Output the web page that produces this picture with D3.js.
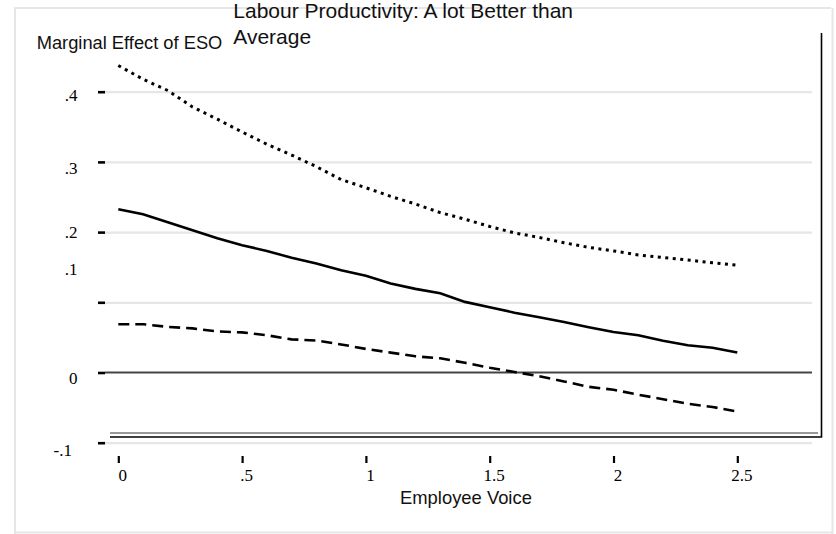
<!DOCTYPE html>
<html>
<head>
<meta charset="utf-8">
<script src="https://cdn.jsdelivr.net/npm/d3@7"></script>
<style>
  html, body { margin: 0; padding: 0; background: #fff; }
  svg { display: block; }
</style>
</head>
<body>
<svg id="chart" width="836" height="534"></svg>
<script>
// Employee voice values at which the marginal effect was evaluated
const voice = [0, 0.1, 0.2, 0.3, 0.4, 0.5, 0.6, 0.7, 0.8, 0.9, 1.0, 1.1, 1.2,
  1.3, 1.4, 1.5, 1.6, 1.7, 1.8, 1.9, 2.0, 2.1, 2.2, 2.3, 2.4, 2.5];

// Point estimate of the marginal effect of ESO
const effect = [0.2326, 0.2255, 0.2141, 0.2027, 0.1913, 0.1813, 0.1732, 0.1634,
  0.1554, 0.1457, 0.1377, 0.1269, 0.1191, 0.1130, 0.1006, 0.0930, 0.0852,
  0.0788, 0.0719, 0.0645, 0.0576, 0.0531, 0.0452, 0.0389, 0.0352, 0.0285];

// Upper confidence bound
const upper = [0.4373, 0.4178, 0.4017, 0.3782, 0.3608, 0.3426, 0.3252, 0.3098,
  0.2932, 0.2748, 0.2632, 0.2509, 0.2400, 0.2278, 0.2184, 0.2080, 0.1989,
  0.1924, 0.1849, 0.1783, 0.1732, 0.1675, 0.1638, 0.1603, 0.1563, 0.1528];

// Lower confidence bound
const lower = [0.0688, 0.0688, 0.0650, 0.0628, 0.0585, 0.0571, 0.0531, 0.0472,
  0.0456, 0.0400, 0.0336, 0.0283, 0.0231, 0.0202, 0.0138, 0.0068, 0.0007,
  -0.0053, -0.0127, -0.0204, -0.0246, -0.0316, -0.0380, -0.0446, -0.0491, -0.0556];

// Axis ticks and their labels
const xTicks = [0, 0.5, 1, 1.5, 2, 2.5];
const xTickLabels = ["0", ".5", "1", "1.5", "2", "2.5"];
const yTicks = [0.4, 0.3, 0.2, 0.1, 0, -0.1];
const yTickLabels = [".4", ".3", ".2", ".1", "0", "-.1"];
// value at which each y label sits
const yLabelAt = [0.396, 0.291, 0.2, 0.148, -0.007, -0.11];

const titleLines = ["Labour Productivity: A lot Better than", "Average"];
const yTitle = "Marginal Effect of ESO";
const xTitle = "Employee Voice";

const svg = d3.select("#chart");
const sans = "'Liberation Sans', Arial, Helvetica, sans-serif";
const serif = "'Liberation Serif', 'Times New Roman', serif";

const x = d3.scaleLinear().domain([0, 2.5]).range([118.3, 737.3]);
const y = d3.scaleLinear().domain([-0.1, 0.4]).range([442.7, 91.7]);

const plotLeft = 105, plotRight = 812;

// outer light frame
const frame = svg.append("g").attr("fill", "none").attr("stroke", "#e6e6e6").attr("stroke-width", 2);
frame.append("path").attr("d", "M15,534 V8 H831");
frame.append("path").attr("d", "M832.5,8 V534");
frame.append("path").attr("d", "M15,532.5 H832");

// light gridlines (non-zero values)
const grid = d3.axisLeft(y)
  .tickValues(yTicks.filter(v => v !== 0))
  .tickSizeInner(-(plotRight - plotLeft))
  .tickSizeOuter(0)
  .tickFormat("");
svg.append("g")
  .attr("transform", `translate(${plotLeft},0)`)
  .call(grid)
  .call(g => g.select(".domain").remove())
  .call(g => g.selectAll(".tick line").attr("stroke", "#e6e6e6").attr("stroke-width", 2.2));

// zero reference line
svg.append("line")
  .attr("x1", plotLeft).attr("x2", plotRight)
  .attr("y1", y(0)).attr("y2", y(0))
  .attr("stroke", "#444").attr("stroke-width", 2.2);

// short black y tick marks
const yAxis = d3.axisLeft(y).tickValues(yTicks).tickSize(7).tickFormat("");
svg.append("g")
  .attr("transform", `translate(${plotLeft},0)`)
  .call(yAxis)
  .call(g => g.select(".domain").remove())
  .call(g => g.selectAll(".tick line").attr("stroke", "#000").attr("stroke-width", 2.6));

// y tick labels
svg.append("g").selectAll("text")
  .data(yTickLabels)
  .join("text")
  .attr("x", (d, i) => d === "-.1" ? 72 : 77.5)
  .attr("y", (d, i) => y(yLabelAt[i]))
  .attr("dy", "0.36em")
  .attr("text-anchor", "end")
  .attr("font-family", serif)
  .attr("font-size", 17)
  .attr("fill", "#000")
  .text(d => d);

// plot box: double line along the bottom and a rule on the right
svg.append("line").attr("x1", 110).attr("x2", 818).attr("y1", 433).attr("y2", 433)
  .attr("stroke", "#777").attr("stroke-width", 1.5);
svg.append("path").attr("d", "M110,437 H821.5 V33")
  .attr("fill", "none").attr("stroke", "#000").attr("stroke-width", 1.6);

// x axis ticks and labels
const xAxis = d3.axisBottom(x)
  .tickValues(xTicks)
  .tickSize(7)
  .tickPadding(6)
  .tickFormat((d, i) => xTickLabels[i]);
svg.append("g")
  .attr("transform", "translate(0,456)")
  .call(xAxis)
  .call(g => g.select(".domain").remove())
  .call(g => g.selectAll(".tick line").attr("stroke", "#000").attr("stroke-width", 2.2))
  .call(g => g.selectAll(".tick text")
    .attr("dx", 4)
    .attr("font-family", serif)
    .attr("font-size", 17)
    .attr("fill", "#000"));

// series lines
const series = [
  { values: upper, dash: "3,4.5", width: 3 },
  { values: effect, dash: null, width: 2.6 },
  { values: lower, dash: "11,6", width: 2.6 }
];
const line = d3.line().x(d => x(d[0])).y(d => y(d[1]));
svg.append("g").selectAll("path")
  .data(series)
  .join("path")
  .attr("d", s => line(voice.map((v, i) => [v, s.values[i]])))
  .attr("fill", "none")
  .attr("stroke", "#000")
  .attr("stroke-width", s => s.width)
  .attr("stroke-dasharray", s => s.dash);

// titles
const title = svg.append("text")
  .attr("font-family", sans)
  .attr("font-size", 21)
  .attr("fill", "#111");
title.selectAll("tspan")
  .data(titleLines)
  .join("tspan")
  .attr("x", 233.3)
  .attr("y", (d, i) => i === 0 ? 18 : 44)
  .text(d => d);

svg.append("text")
  .attr("x", 36.7).attr("y", 49)
  .attr("font-family", sans).attr("font-size", 18.3)
  .attr("fill", "#111")
  .text(yTitle);

svg.append("text")
  .attr("x", 400).attr("y", 503.5)
  .attr("font-family", sans).attr("font-size", 18.4)
  .attr("fill", "#111")
  .text(xTitle);
</script>
</body>
</html>
